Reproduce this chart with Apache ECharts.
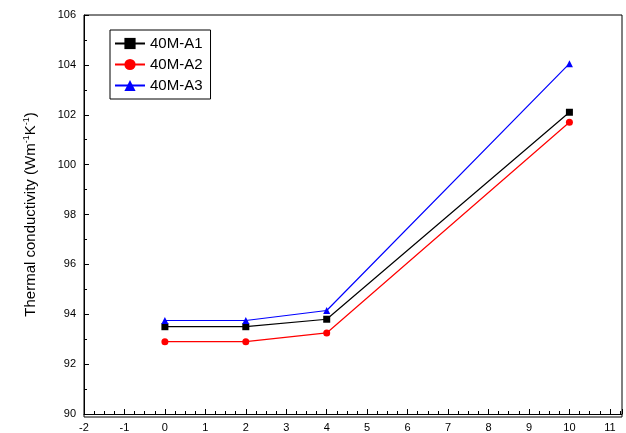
<!DOCTYPE html><html><head><meta charset="utf-8"><script src="https://cdn.jsdelivr.net/npm/echarts@6/dist/echarts.min.js"></script></head><body style="margin:0"><div id="c" style="width:626px;height:433px"></div><script>
const xs=[0,2,4,10];
const a1=[93.5,93.5,93.8,102.1];
const a2=[92.9,92.9,93.25,101.7];
const a3=[93.75,93.75,94.15,104.05];
const names=['40M-A1','40M-A2','40M-A3'];
const ch=echarts.init(document.getElementById('c'));
const mk=(n,d,c,s)=>({name:n,type:'line',data:xs.map((x,i)=>[x,d[i]]),symbol:s,symbolSize:7,itemStyle:{color:c},lineStyle:{color:c,width:1.2}});
ch.setOption({animation:false,
grid:{left:84,right:4,top:15,bottom:16},
legend:{left:110,top:30,orient:'vertical',itemWidth:30,itemGap:6,backgroundColor:'#fff',borderColor:'#000',borderWidth:1,padding:[6,8,6,4],textStyle:{fontFamily:'Liberation Sans',fontSize:15,color:'#000'},data:names},
xAxis:{type:'value',min:-2,max:11.3,interval:1,axisLine:{onZero:false,lineStyle:{color:'#000'}},axisTick:{inside:true,length:5,lineStyle:{color:'#000'}},minorTick:{show:true,splitNumber:4,length:3,lineStyle:{color:'#000'}},splitLine:{show:false},axisLabel:{color:'#000',fontSize:11,fontFamily:'Liberation Sans',showMaxLabel:false}},
yAxis:{type:'value',min:90,max:106,interval:2,name:'Thermal conductivity (Wm{s|-1}K{s|-1})',nameLocation:'middle',nameGap:45,nameTextStyle:{fontFamily:'Liberation Sans',fontSize:15,color:'#000',rich:{s:{fontSize:9,verticalAlign:'top',padding:[0,0,8,0]}}},axisLine:{show:true,onZero:false,lineStyle:{color:'#000'}},axisTick:{inside:true,length:5,lineStyle:{color:'#000'}},minorTick:{show:true,splitNumber:2,length:3,lineStyle:{color:'#000'}},splitLine:{show:false},axisLabel:{color:'#000',fontSize:11,fontFamily:'Liberation Sans'}},
series:[mk(names[0],a1,'#000','rect'),mk(names[1],a2,'#ff0000','circle'),mk(names[2],a3,'#0000ff','triangle')],
graphic:[{type:'rect',shape:{x:84,y:15,width:538,height:402},style:{fill:'none',stroke:'#000',lineWidth:1},silent:true}]
});
</script></body></html>
